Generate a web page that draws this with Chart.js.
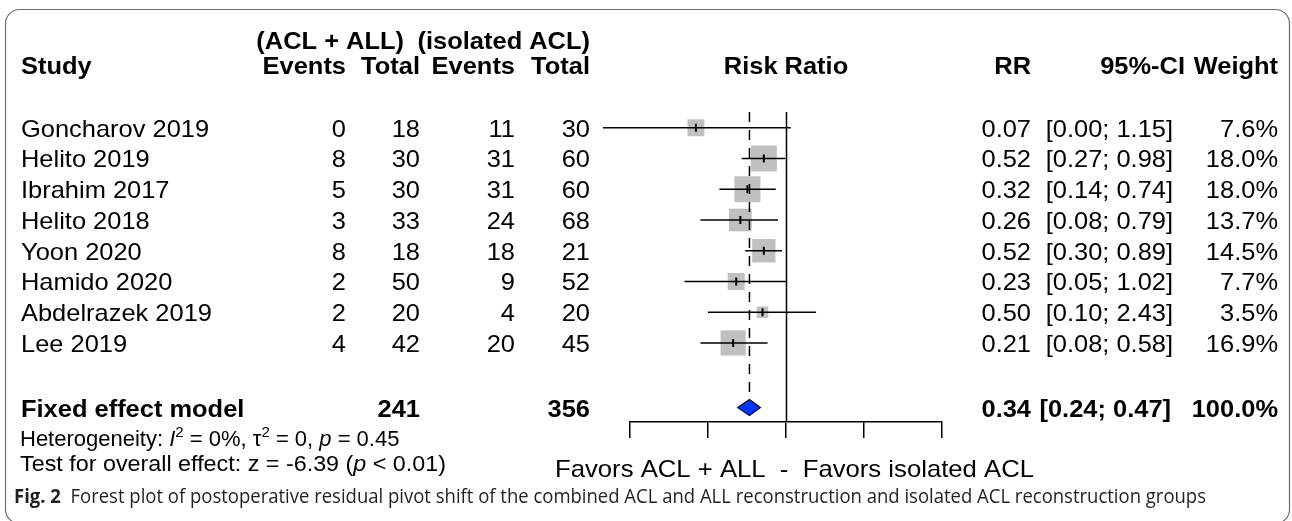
<!DOCTYPE html>
<html>
<head>
<meta charset="utf-8">
<script src="https://cdn.jsdelivr.net/npm/chart.js@4.4.1/dist/chart.umd.min.js"></script>
<style>
  html, body { margin: 0; padding: 0; background: #fff; }
</style>
</head>
<body>
<canvas id="forest" width="1292" height="521"></canvas>
<script>
// study level data
const studies = ["Goncharov 2019", "Helito 2019", "Ibrahim 2017", "Helito 2018",
  "Yoon 2020", "Hamido 2020", "Abdelrazek 2019", "Lee 2019"];
const eventsExp = [0, 8, 5, 3, 8, 2, 2, 4];
const totalExp = [18, 30, 30, 33, 18, 50, 20, 42];
const eventsCtl = [11, 31, 31, 24, 18, 9, 4, 20];
const totalCtl = [30, 60, 60, 68, 21, 52, 20, 45];
const rr = [0.07, 0.52, 0.32, 0.26, 0.52, 0.23, 0.50, 0.21];
const ciLow = [0.0045, 0.27, 0.14, 0.08, 0.30, 0.05, 0.10, 0.08];
const ciHigh = [1.15, 0.98, 0.74, 0.79, 0.89, 1.02, 2.43, 0.58];
const weights = [7.6, 18.0, 18.0, 13.7, 14.5, 7.7, 3.5, 16.9];

// fixed effect summary
const pooledRR = 0.34;
const pooledCI = [0.24, 0.47];
const pooledTotals = [241, 356];

const axisTicks = [0.01, 0.1, 1, 10, 100];

// layout
const SUMMARY_ROW = 10.1;
const FONT = '"Liberation Sans", Arial, sans-serif';
const SX = 1.06; // text in the figure is slightly wider than Arial

function boxSide(w) {
  return 26 * Math.sqrt(w / 18);
}

function txt(ctx, s, x, y, align, font, sx) {
  ctx.save();
  ctx.font = font;
  ctx.textAlign = align;
  ctx.textBaseline = 'alphabetic';
  ctx.translate(x, y);
  ctx.scale(sx || SX, 1);
  ctx.fillText(s, 0, 0);
  ctx.restore();
}

// draws a list of runs [text, font, superscript?] from left x
function runs(ctx, parts, x, y, sx) {
  let cx = x;
  parts.forEach(p => {
    ctx.save();
    ctx.font = p[1];
    ctx.textAlign = 'left';
    ctx.textBaseline = 'alphabetic';
    ctx.translate(cx, p[2] ? y - 9 : y);
    ctx.scale(sx, 1);
    ctx.fillText(p[0], 0, 0);
    ctx.restore();
    ctx.font = p[1];
    cx += ctx.measureText(p[0]).width * sx;
  });
  return cx;
}

const forestPlugin = {
  id: 'forest',
  afterDatasetsDraw(chart) {
    const ctx = chart.ctx;
    const xs = chart.scales.x, ys = chart.scales.y;
    const yTop = 112;
    const yAxis = chart.chartArea.bottom;

    ctx.save();
    ctx.strokeStyle = '#000';
    ctx.lineWidth = 1.5;

    // line of no effect
    const x1 = Math.round(xs.getPixelForValue(1)) + 0.5;
    ctx.beginPath();
    ctx.moveTo(x1, yTop);
    ctx.lineTo(x1, yAxis);
    ctx.stroke();

    // dashed line at the pooled estimate
    const ySum = ys.getPixelForValue(SUMMARY_ROW);
    const xp = xs.getPixelForValue(pooledRR);
    ctx.setLineDash([10, 8]);
    ctx.beginPath();
    ctx.moveTo(xp, yTop);
    ctx.lineTo(xp, ySum - 9);
    ctx.stroke();
    ctx.setLineDash([]);

    // confidence intervals and estimate marks
    studies.forEach((s, i) => {
      const y = ys.getPixelForValue(i + 1);
      ctx.lineWidth = 1.5;
      ctx.beginPath();
      ctx.moveTo(xs.getPixelForValue(ciLow[i]), y);
      ctx.lineTo(xs.getPixelForValue(ciHigh[i]), y);
      ctx.stroke();
      const xe = xs.getPixelForValue(rr[i]);
      ctx.lineWidth = 2;
      ctx.beginPath();
      ctx.moveTo(xe, y - 4);
      ctx.lineTo(xe, y + 4);
      ctx.stroke();
    });

    // summary diamond
    ctx.beginPath();
    ctx.moveTo(xs.getPixelForValue(pooledCI[0]), ySum);
    ctx.lineTo(xp, ySum - 8);
    ctx.lineTo(xs.getPixelForValue(pooledCI[1]), ySum);
    ctx.lineTo(xp, ySum + 8);
    ctx.closePath();
    ctx.fillStyle = '#0036ff';
    ctx.fill();
    ctx.lineWidth = 1.2;
    ctx.strokeStyle = '#0a0a40';
    ctx.stroke();
    ctx.restore();
  },
  afterDraw(chart) {
    const ctx = chart.ctx;
    const ys = chart.scales.y;
    const reg = '24px ' + FONT;
    const bold = 'bold 24px ' + FONT;
    ctx.save();
    ctx.fillStyle = '#000';

    // header
    txt(ctx, '(ACL + ALL)', 404, 49, 'right', bold);
    txt(ctx, '(isolated ACL)', 590, 49, 'right', bold);
    txt(ctx, 'Study', 21, 74, 'left', bold);
    txt(ctx, 'Events', 346, 74, 'right', bold);
    txt(ctx, 'Total', 420, 74, 'right', bold);
    txt(ctx, 'Events', 515, 74, 'right', bold);
    txt(ctx, 'Total', 590, 74, 'right', bold);
    txt(ctx, 'Risk Ratio', chart.scales.x.getPixelForValue(1), 74, 'center', bold);
    txt(ctx, 'RR', 1031, 74, 'right', bold);
    txt(ctx, '95%-CI', 1185, 74, 'right', bold);
    txt(ctx, 'Weight', 1278, 74, 'right', bold);

    // study rows
    studies.forEach((s, i) => {
      const y = ys.getPixelForValue(i + 1) + 9;
      txt(ctx, s, 21, y, 'left', reg);
      txt(ctx, String(eventsExp[i]), 346, y, 'right', reg);
      txt(ctx, String(totalExp[i]), 420, y, 'right', reg);
      txt(ctx, String(eventsCtl[i]), 515, y, 'right', reg);
      txt(ctx, String(totalCtl[i]), 590, y, 'right', reg);
      txt(ctx, rr[i].toFixed(2), 1031, y, 'right', reg);
      txt(ctx, '[' + ciLow[i].toFixed(2) + '; ' + ciHigh[i].toFixed(2) + ']', 1173, y, 'right', reg);
      txt(ctx, weights[i].toFixed(1) + '%', 1278, y, 'right', reg);
    });

    // summary row
    const yS = ys.getPixelForValue(SUMMARY_ROW) + 9;
    txt(ctx, 'Fixed effect model', 21, yS, 'left', bold);
    txt(ctx, String(pooledTotals[0]), 420, yS, 'right', bold);
    txt(ctx, String(pooledTotals[1]), 590, yS, 'right', bold);
    txt(ctx, pooledRR.toFixed(2), 1031, yS, 'right', bold);
    txt(ctx, '[' + pooledCI[0].toFixed(2) + '; ' + pooledCI[1].toFixed(2) + ']', 1171, yS, 'right', bold);
    txt(ctx, '100.0%', 1278, yS, 'right', bold);

    // heterogeneity and test statistics
    const r22 = '22px ' + FONT, i22 = 'italic 22px ' + FONT, s15 = '15px ' + FONT;
    runs(ctx, [['Heterogeneity: ', r22], ['I', i22], ['2', s15, true], [' = 0%, ', r22],
      ['\u03c4', r22], ['2', s15, true], [' = 0, ', r22], ['p', i22], [' = 0.45', r22]], 20, 446, 1.0);
    runs(ctx, [['Test for overall effect: z = -6.39 (', r22], ['p', i22], [' < 0.01)', r22]], 20, 471, SX);

    // x axis label
    ctx.font = '24px ' + FONT;
    const lab = 'Favors ACL + ALL  -  Favors isolated ACL';
    txt(ctx, lab, 555, 477, 'left', '24px ' + FONT, 479 / ctx.measureText(lab).width);

    // caption
    ctx.fillStyle = '#231f20';
    const capB = 'bold 20px "Open Sans", sans-serif', capR = '20px "Open Sans", sans-serif';
    const capText = '  Forest plot of postoperative residual pivot shift of the combined ACL and ALL reconstruction and isolated ACL reconstruction groups';
    ctx.font = capB;
    const wB = ctx.measureText('Fig. 2').width;
    ctx.font = capR;
    const wR = ctx.measureText(capText).width;
    const csx = 1192 / (wB + wR);
    runs(ctx, [['Fig. 2', capB], [capText, capR]], 14, 503, csx);

    // frame
    ctx.strokeStyle = '#6e6e6e';
    ctx.lineWidth = 1.2;
    ctx.beginPath();
    ctx.roundRect(5.5, 9.5, 1284, 514, 14);
    ctx.stroke();
    ctx.restore();
  }
};

new Chart(document.getElementById('forest'), {
  type: 'scatter',
  data: {
    datasets: [{
      data: studies.map((s, i) => ({ x: rr[i], y: i + 1 })),
      pointStyle: 'rect',
      pointRadius: weights.map(w => boxSide(w) / Math.SQRT2),
      pointBackgroundColor: '#c0c0c0',
      pointBorderWidth: 0
    }]
  },
  options: {
    responsive: false,
    animation: false,
    events: [],
    layout: { padding: { left: 630, right: 350, top: 97, bottom: 83 } },
    plugins: { legend: { display: false }, tooltip: { enabled: false } },
    scales: {
      x: {
        type: 'logarithmic',
        min: 0.01,
        max: 100,
        afterBuildTicks: s => { s.ticks = axisTicks.map(v => ({ value: v })); },
        ticks: { display: false },
        grid: { display: true, drawOnChartArea: false, drawTicks: true, tickLength: 16, color: '#000', lineWidth: 1.5 },
        border: { display: true, color: '#000', width: 1.5 }
      },
      y: { type: 'linear', reverse: true, min: 0, max: 10.57, display: false }
    }
  },
  plugins: [forestPlugin]
});
</script>
</body>
</html>
